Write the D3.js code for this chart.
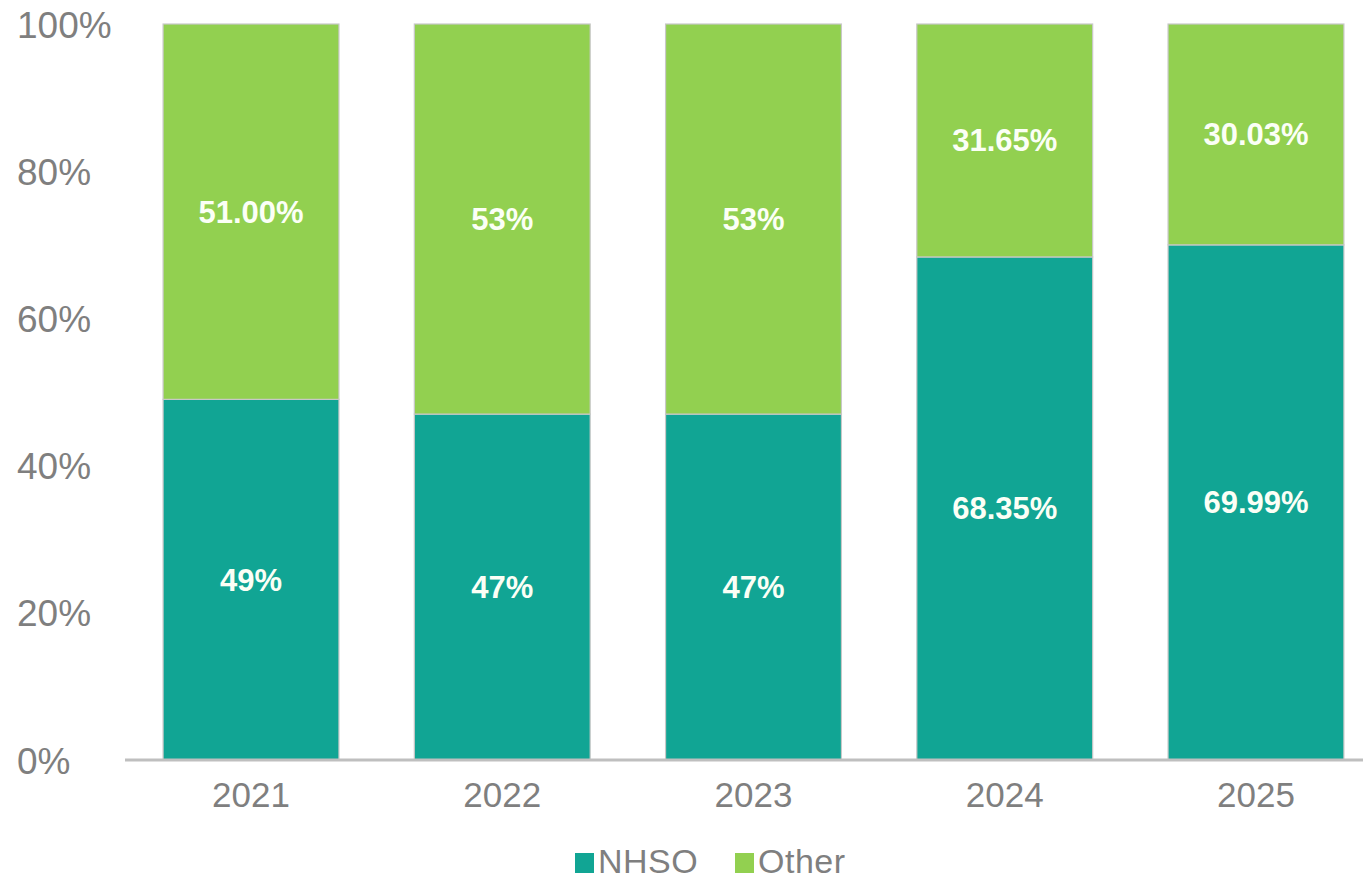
<!DOCTYPE html>
<html><head><meta charset="utf-8">
<script src="https://cdn.jsdelivr.net/npm/d3@7"></script>
<style>body{margin:0;background:#fff}svg{display:block}</style>
</head><body>
<svg id="c" width="1363" height="882"></svg>
<script>
const years = ["2021","2022","2023","2024","2025"];
const nhso = [49, 47, 47, 68.35, 69.99];
const other = [51, 53, 53, 31.65, 30.03];
const nhsoLabels = ["49%","47%","47%","68.35%","69.99%"];
const otherLabels = ["51.00%","53%","53%","31.65%","30.03%"];
const yTicks = [0,20,40,60,80,100];
const seriesNames = ["NHSO","Other"];
const colors = ["#11A594","#92D050"];

const svg = d3.select("#c");
const x = d3.scaleBand().domain(years).range([125.4, 1381.6]).paddingInner(0.3).paddingOuter(0.15);
const y = d3.scaleLinear().domain([0,100]).range([760, 24]);
const font = "Liberation Sans, Arial, sans-serif";
const grey = "#7f7f7f";

// y tick labels (left aligned as in reference)
svg.append("g").selectAll("text").data(yTicks).join("text")
  .attr("x", 17).attr("y", d => y(d) + 13.5)
  .attr("text-anchor","start").attr("font-family",font).attr("font-size",37)
  .attr("fill",grey)
  .text(d => d + "%");

// bars
const g = svg.append("g");
years.forEach((yr,i) => {
  const top = Math.min(100, nhso[i]+other[i]);
  g.append("rect").attr("x", x(yr)).attr("width", x.bandwidth())
    .attr("y", y(nhso[i])).attr("height", y(0)-y(nhso[i]))
    .attr("fill", colors[0]).attr("stroke","#c8c8c8").attr("stroke-width",1.2);
  g.append("rect").attr("x", x(yr)).attr("width", x.bandwidth())
    .attr("y", y(top)).attr("height", y(nhso[i])-y(top))
    .attr("fill", colors[1]).attr("stroke","#c8c8c8").attr("stroke-width",1.2);
  const cx = x(yr) + x.bandwidth()/2;
  g.append("text").attr("x",cx).attr("y",(y(0)+y(nhso[i]))/2 + 11)
    .attr("text-anchor","middle").attr("font-family",font).attr("font-weight","bold")
    .attr("font-size",31).attr("fill","#fbfff6").text(nhsoLabels[i]);
  g.append("text").attr("x",cx).attr("y",(y(nhso[i])+y(top))/2 + 11)
    .attr("text-anchor","middle").attr("font-family",font).attr("font-weight","bold")
    .attr("font-size",31).attr("fill","#fbfff6").text(otherLabels[i]);
});

// x axis
const xa = svg.append("g").attr("transform","translate(0,760)").call(d3.axisBottom(x).tickSize(0).tickPadding(0));
xa.select(".domain").attr("stroke","#bfbfbf").attr("stroke-width",3).attr("d","M125,0H1363");
xa.selectAll("text").attr("font-family",font).attr("font-size",35).attr("fill",grey)
  .attr("dy",null).attr("y",47);

// legend
const leg = svg.append("g");
const legItems = [{name:seriesNames[0], c:colors[0], x:575},{name:seriesNames[1], c:colors[1], x:735}];
legItems.forEach(it => {
  leg.append("rect").attr("x",it.x).attr("y",853).attr("width",19).attr("height",20).attr("fill",it.c);
  leg.append("text").attr("x",it.x+23).attr("y",873)
    .attr("font-family",font).attr("font-size",34).attr("fill",grey).attr("letter-spacing","0.5").text(it.name);
});
</script>
</body></html>
